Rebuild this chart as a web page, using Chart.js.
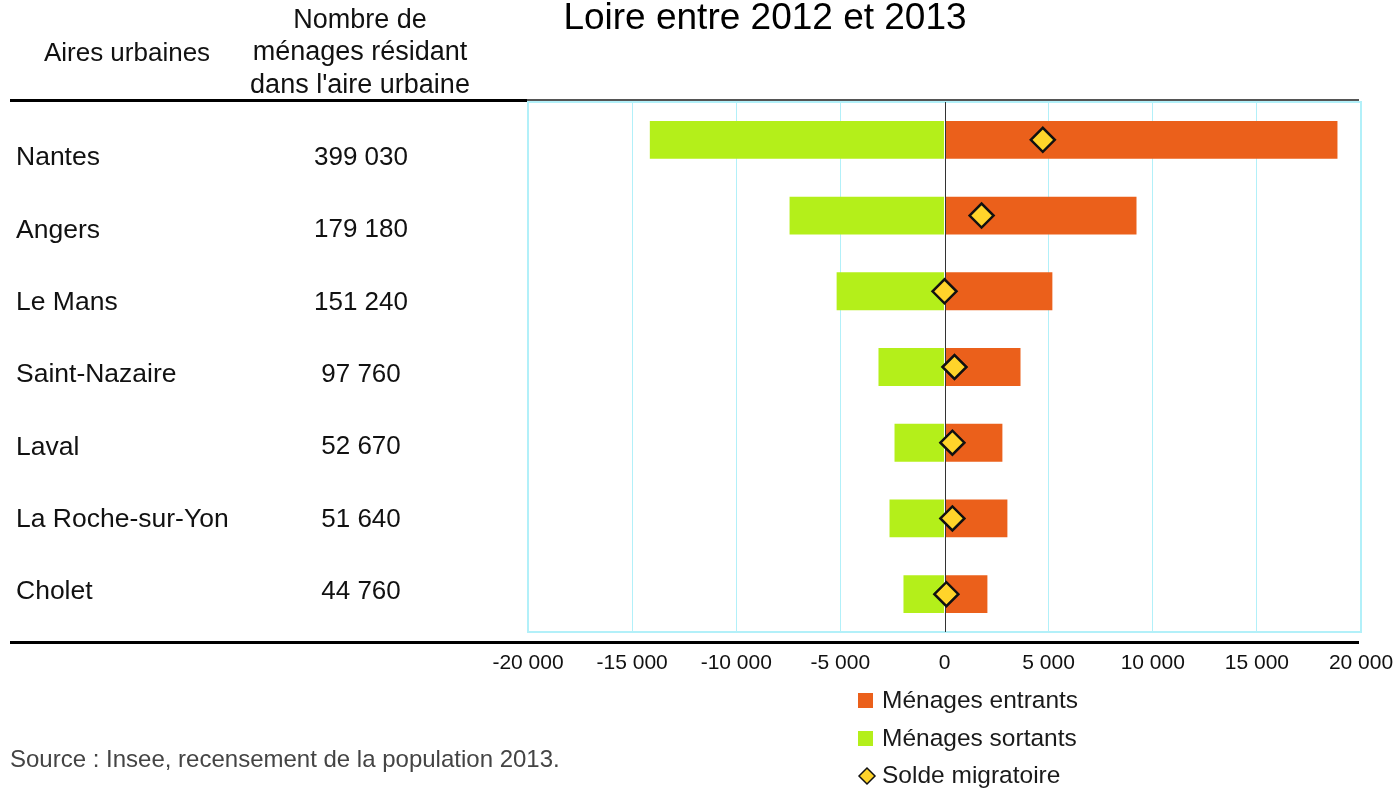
<!DOCTYPE html>
<html>
<head>
<meta charset="utf-8">
<script src="https://cdn.jsdelivr.net/npm/chart.js@4.4.1/dist/chart.umd.min.js"></script>
<style>
  body { margin: 0; background: #fff; }
  #wrap { width: 1396px; height: 788px; }
</style>
</head>
<body>
<div id="wrap"><canvas id="chart" width="1396" height="788"></canvas></div>
<script>
// Données
const categories = ["Nantes", "Angers", "Le Mans", "Saint-Nazaire", "Laval", "La Roche-sur-Yon", "Cholet"]
const households = [399030, 179180, 151240, 97760, 52670, 51640, 44760]
const entrants = [18870, 9220, 5180, 3650, 2780, 3020, 2060]
const sortants = [-14150, -7440, -5180, -3170, -2400, -2640, -1970]
const solde = [4720, 1780, 0, 480, 380, 380, 90]
const xTicks = [-20000, -15000, -10000, -5000, 0, 5000, 10000, 15000, 20000]

const FONT = '"Liberation Sans", Arial, sans-serif'
const ORANGE = "#EB601B"
const GREEN = "#B4EF1A"
const YELLOW = "#FFD42A"
const CYAN = "#B2F0F9"

function fmt(v) {
  const s = String(Math.abs(Math.round(v))).replace(/\B(?=(\d{3})+(?!\d))/g, " ")
  return (v < 0 ? "-" : "") + s
}

// Tableau à gauche, titre, légende et filets
const decor = {
  id: "decor",
  beforeDatasetsDraw(chart) {
    const { ctx, chartArea: a } = chart
    ctx.save()
    ctx.strokeStyle = CYAN
    ctx.lineWidth = 2
    ctx.strokeRect(a.left, a.top, a.right - a.left, a.bottom - a.top)
    ctx.restore()
  },
  beforeDatasetDraw(chart, args) {
    if (args.index !== 2) return
    const { ctx, chartArea: a, scales } = chart
    const x0 = Math.round(scales.x.getPixelForValue(0)) + 0.5
    ctx.save()
    ctx.strokeStyle = "#333"
    ctx.lineWidth = 1
    ctx.beginPath()
    ctx.moveTo(x0, a.top)
    ctx.lineTo(x0, a.bottom)
    ctx.stroke()
    ctx.restore()
  },
  afterDraw(chart) {
    const { ctx } = chart
    ctx.save()

    // filets horizontaux
    ctx.strokeStyle = "#000"
    ctx.lineWidth = 3
    ctx.beginPath()
    ctx.moveTo(10, 100.5)
    ctx.lineTo(527, 100.5)
    ctx.moveTo(10, 642.5)
    ctx.lineTo(1359, 642.5)
    ctx.stroke()
    ctx.strokeStyle = "#555"
    ctx.lineWidth = 2
    ctx.beginPath()
    ctx.moveTo(527, 100)
    ctx.lineTo(1359, 100)
    ctx.stroke()

    // titre
    ctx.fillStyle = "#000"
    ctx.textBaseline = "alphabetic"
    ctx.textAlign = "center"
    ctx.font = "37px " + FONT
    ctx.fillText("Loire entre 2012 et 2013", 765, 29)

    // en-têtes
    ctx.fillStyle = "#111"
    ctx.textBaseline = "middle"
    ctx.font = "26px " + FONT
    ctx.fillText("Aires urbaines", 127, 54)
    ctx.font = "27px " + FONT
    ctx.fillText("Nombre de", 360, 21)
    ctx.fillText("ménages résidant", 360, 53)
    ctx.fillText("dans l'aire urbaine", 360, 86)

    // lignes du tableau
    categories.forEach((name, i) => {
      const y = 158 + i * 72.3
      ctx.font = "26.5px " + FONT
      ctx.textAlign = "left"
      ctx.fillText(name, 16, y)
      ctx.font = "26px " + FONT
      ctx.textAlign = "center"
      ctx.fillText(fmt(households[i]), 361, y)
    })

    // légende
    ctx.font = "24.5px " + FONT
    ctx.textAlign = "left"
    ctx.fillStyle = ORANGE
    ctx.fillRect(858, 693, 15, 15)
    ctx.fillStyle = GREEN
    ctx.fillRect(858, 731, 15, 15)
    ctx.fillStyle = YELLOW
    ctx.strokeStyle = "#111"
    ctx.lineWidth = 1.5
    ctx.beginPath()
    ctx.moveTo(859, 776)
    ctx.lineTo(867, 768)
    ctx.lineTo(875, 776)
    ctx.lineTo(867, 784)
    ctx.closePath()
    ctx.fill()
    ctx.stroke()
    ctx.fillStyle = "#1a1a1a"
    ctx.fillText("Ménages entrants", 882, 701)
    ctx.fillText("Ménages sortants", 882, 739)
    ctx.fillText("Solde migratoire", 882, 776)

    // source
    ctx.fillStyle = "#444"
    ctx.font = "24px " + FONT
    ctx.fillText("Source : Insee, recensement de la population 2013.", 10, 760)

    ctx.restore()
  }
}

new Chart(document.getElementById("chart"), {
  data: {
    labels: categories,
    datasets: [
      {
        type: "bar",
        label: "Ménages entrants",
        data: entrants,
        backgroundColor: ORANGE,
        grouped: false,
        categoryPercentage: 1,
        barPercentage: 0.5,
        order: 2
      },
      {
        type: "bar",
        label: "Ménages sortants",
        data: sortants,
        backgroundColor: GREEN,
        grouped: false,
        categoryPercentage: 1,
        barPercentage: 0.5,
        order: 2
      },
      {
        type: "line",
        label: "Solde migratoire",
        data: solde,
        showLine: false,
        pointStyle: "rectRot",
        pointRadius: 12,
        pointBackgroundColor: YELLOW,
        pointBorderColor: "#111",
        pointBorderWidth: 2.5,
        order: 0
      }
    ]
  },
  options: {
    indexAxis: "y",
    responsive: false,
    animation: false,
    layout: { padding: { left: 528, right: 35, top: 102, bottom: 0 } },
    plugins: {
      legend: { display: false },
      tooltip: { enabled: false }
    },
    scales: {
      y: {
        display: false,
        offset: true
      },
      x: {
        min: -20000,
        max: 20000,
        afterBuildTicks(scale) {
          scale.ticks = xTicks.map(v => ({ value: v }))
        },
        afterFit(scale) {
          scale.height = 156
          scale.paddingLeft = 0
          scale.paddingRight = 0
        },
        border: { display: false },
        grid: {
          drawTicks: false,
          color: ctx => ctx.tick && ctx.tick.value === 0 ? "rgba(0,0,0,0)" : CYAN,
          lineWidth: 1
        },
        ticks: {
          autoSkip: false,
          maxRotation: 0,
          padding: 19,
          color: "#111",
          font: { family: FONT, size: 21 },
          callback: v => fmt(v)
        }
      }
    }
  },
  plugins: [decor]
})
</script>
</body>
</html>
